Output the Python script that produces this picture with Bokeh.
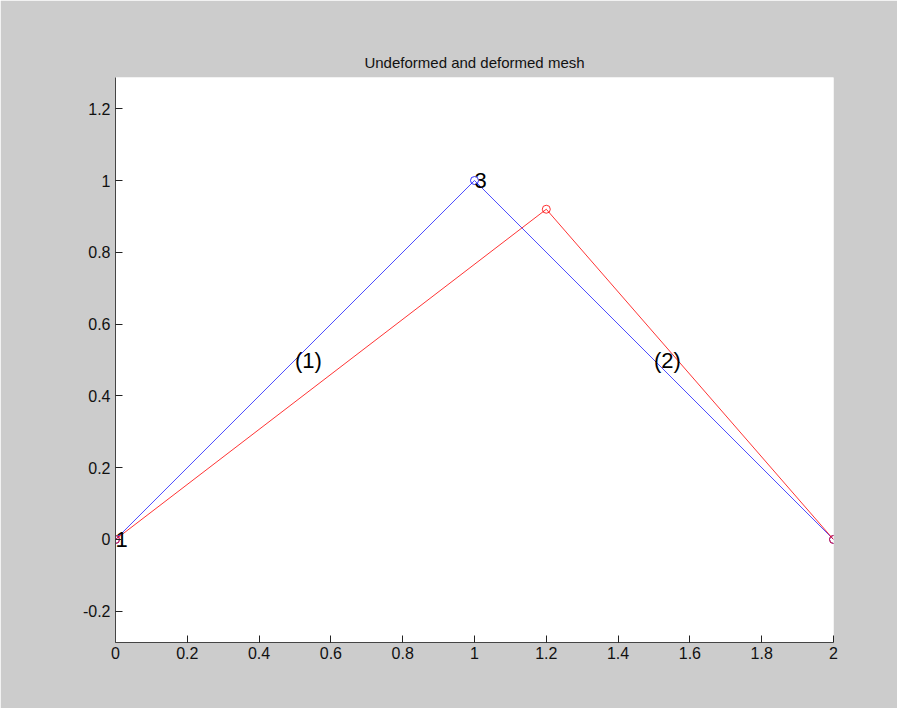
from bokeh.plotting import figure
from bokeh.models import Range1d, FixedTicker
from bokeh.core.properties import value
from bokeh.embed import file_html
from bokeh.resources import INLINE

# Data
node_x = [0.0, 2.0, 1.0]
node_y = [0.0, 0.0, 1.0]
node_labels = ["1", "2", "3"]
elements = [[0, 2], [2, 1]]
element_labels = ["(1)", "(2)"]
def_x = [0.0, 2.0, 1.2]
def_y = [0.0, 0.0, 0.92]
x_ticks = [0, 0.2, 0.4, 0.6, 0.8, 1, 1.2, 1.4, 1.6, 1.8, 2]
x_tick_labels = ["0", "0.2", "0.4", "0.6", "0.8", "1", "1.2", "1.4", "1.6", "1.8", "2"]
y_ticks = [-0.2, 0, 0.2, 0.4, 0.6, 0.8, 1, 1.2]
y_tick_labels = ["-0.2", "0", "0.2", "0.4", "0.6", "0.8", "1", "1.2"]
title_text = "Undeformed and deformed mesh"

FONT = "Liberation Sans"

p = figure(width=897, height=708, output_backend="svg", toolbar_location=None,
           x_range=Range1d(0, 2), y_range=Range1d(-0.287, 1.287),
           min_border_left=115, min_border_right=64, min_border_top=77, min_border_bottom=66,
           title=title_text)
p.border_fill_color = "#cccccc"
p.background_fill_color = "white"
p.outline_line_color = None
p.grid.visible = False

p.title.align = "center"
p.title.text_font = FONT
p.title.text_font_size = "15px"
p.title.text_font_style = "normal"
p.title.text_color = "#111111"
p.title.standoff = 13

for ax in (p.xaxis[0], p.yaxis[0]):
    ax.major_tick_in = 7
    ax.major_tick_out = 0
    ax.minor_tick_line_color = None
    ax.axis_line_color = "#444444"
    ax.major_tick_line_color = "#222222"
    ax.major_label_text_font = FONT
    ax.major_label_text_font_size = "16px"
    ax.major_label_text_color = "#111111"

p.xaxis[0].ticker = FixedTicker(ticks=x_ticks)
p.xaxis[0].major_label_overrides = {t: l for t, l in zip(x_ticks, x_tick_labels)}
p.yaxis[0].ticker = FixedTicker(ticks=y_ticks)
p.yaxis[0].major_label_overrides = {t: l for t, l in zip(y_ticks, y_tick_labels)}
p.xaxis[0].major_label_standoff = 4
p.yaxis[0].major_label_standoff = 5

# Undeformed mesh
for e in elements:
    xs = [node_x[i] for i in e]
    ys = [node_y[i] for i in e]
    p.line(xs, ys, line_color="blue", line_width=1, line_alpha=0.7)
p.scatter(node_x, node_y, marker="circle", size=8, fill_color=None,
          line_color="blue", line_alpha=0.8)

# Deformed mesh
for e in elements:
    xs = [def_x[i] for i in e]
    ys = [def_y[i] for i in e]
    p.line(xs, ys, line_color="red", line_width=1, line_alpha=0.8)
p.scatter(def_x, def_y, marker="circle", size=8, fill_color=None,
          line_color="red", line_alpha=0.8)

# Node labels
p.text(node_x, node_y, text=node_labels, text_align="left", text_baseline="middle",
       text_font=value(FONT), text_font_size="22px", text_color="black")

# Element labels at midpoints
ex = [(node_x[e[0]] + node_x[e[1]]) / 2 for e in elements]
ey = [(node_y[e[0]] + node_y[e[1]]) / 2 for e in elements]
p.text(ex, ey, text=element_labels, text_align="left", text_baseline="middle",
       text_font=value(FONT), text_font_size="22px", text_color="black")

open("out.html", "w").write(file_html(p, INLINE))
